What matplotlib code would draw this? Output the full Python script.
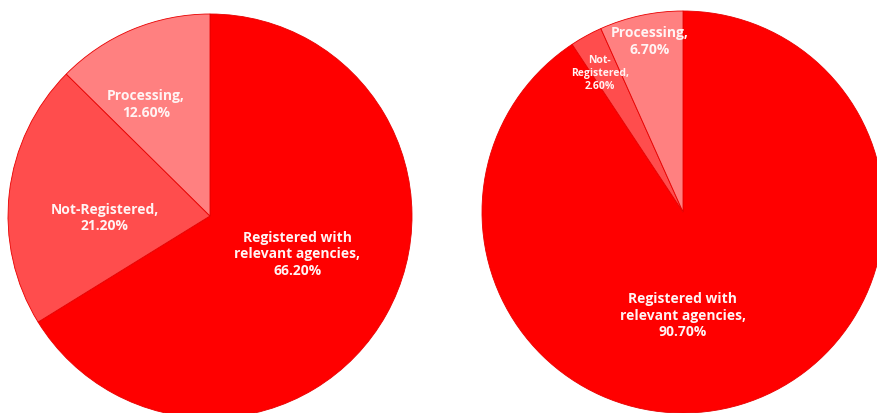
import numpy as np
import matplotlib.pyplot as plt

labels_left = ['Registered with\nrelevant agencies,', 'Not-Registered,', 'Processing,']
values_left = [66.2, 21.2, 12.6]
labels_right = ['Registered with\nrelevant agencies,', 'Not-\nRegistered,', 'Processing,']
values_right = [90.7, 2.6, 6.7]
colors = ['#ff0000', '#ff4d4d', '#ff8080']

plt.rcParams['font.family'] = ['Open Sans', 'DejaVu Sans']

fig = plt.figure(figsize=(8.78, 4.14), dpi=100)


def draw_pie(rect, labels, values, label_pos, sizes):
    ax = fig.add_axes(rect)
    wedges, _ = ax.pie(values, colors=colors, startangle=90, counterclock=False,
                       wedgeprops=dict(edgecolor='#e80000', linewidth=0.6))
    for w, lab, v, (frac, dang), fs in zip(wedges, labels, values, label_pos, sizes):
        ang = np.deg2rad((w.theta1 + w.theta2) / 2 + dang)
        ax.text(frac * np.cos(ang), frac * np.sin(ang), f'{lab}\n{v:.2f}%',
                ha='center', va='center', color='#fff4f4', fontsize=fs,
                fontweight='bold', linespacing=1.25)
    ax.set_xlim(-1, 1)
    ax.set_ylim(-1, 1)
    ax.axis('off')


# (radius fraction, angle tweak) for each label
draw_pie([8 / 878, -5 / 414, 404 / 878, 404 / 414], labels_left, values_left,
         [(0.47, 6), (0.52, 7), (0.64, 7)], [10, 10, 10])
draw_pie([482 / 878, 0, 402 / 878, 402 / 414], labels_right, values_right,
         [(0.51, -17), (0.81, 2), (0.87, -1)], [10, 7.5, 10])

fig.savefig('out.png', dpi=100)
